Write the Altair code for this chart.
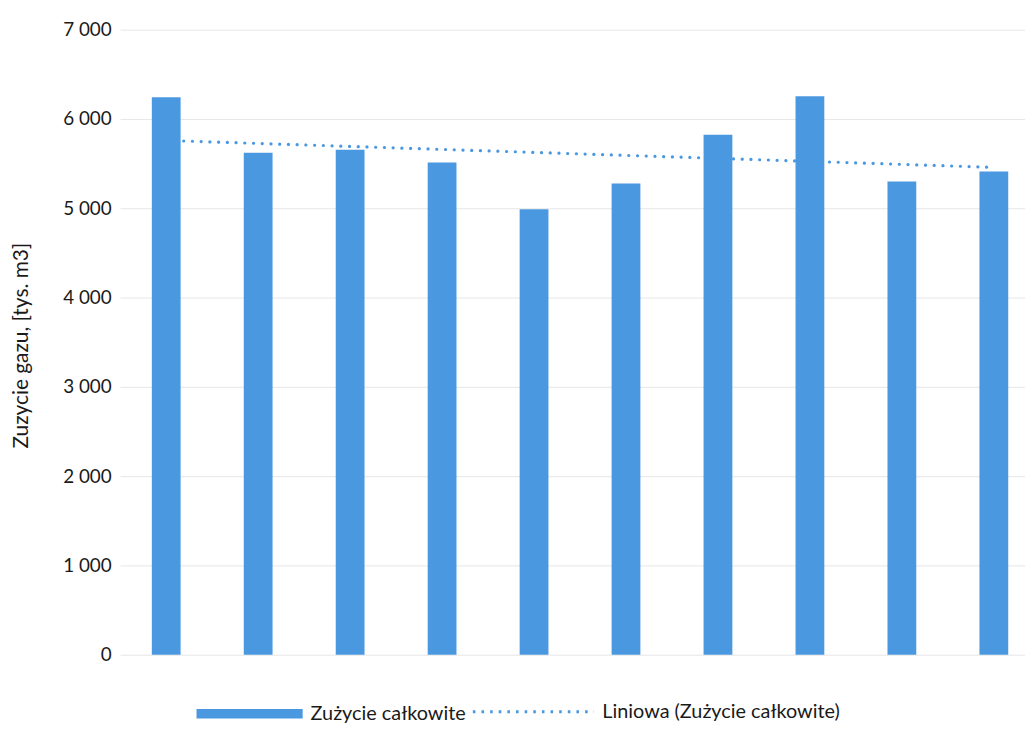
import altair as alt
import pandas as pd

# --- data ---
idx = [1, 2, 3, 4, 5, 6, 7, 8, 9, 10]
values = [6244, 5622, 5655, 5511, 4989, 5278, 5822, 6255, 5300, 5411]
bar_name = "Zużycie całkowite"
trend_name = "Liniowa (Zużycie całkowite)"
y_ticks = [0, 1000, 2000, 3000, 4000, 5000, 6000, 7000]
y_title = "Zuzycie gazu, [tys. m3]"

df = pd.DataFrame({"i": idx, "v": values, "s": [bar_name] * len(idx)})

blue = "#4A98E0"
FONT = "Lato"
TXT = "#1a1a1a"

bar_legend = alt.Legend(
    title=None,
    orient="none",
    legendX=77,
    legendY=636,
    direction="horizontal",
    symbolType="M-1,-0.09H1V0.09H-1Z",
    symbolSize=11449,
    symbolStrokeWidth=0,
    symbolOpacity=1,
    labelFont=FONT,
    labelFontSize=20,
    labelColor=TXT,
    labelOffset=8,
    labelLimit=600,
)
line_legend = alt.Legend(
    title=None,
    orient="none",
    legendX=354,
    legendY=625,
    direction="horizontal",
    symbolType="M-1,0H1",
    symbolSize=14884,
    symbolStrokeWidth=3,
    symbolDash=[2.6, 6.1],
    symbolFillColor="transparent",
    symbolOpacity=1,
    labelFont=FONT,
    labelFontSize=20,
    labelColor=TXT,
    labelOffset=7,
    labelLimit=600,
)

x_enc = alt.X(
    "i:O",
    axis=None,
    scale=alt.Scale(paddingInner=0.687, paddingOuter=0.2635, align=0.654),
)
y_enc = alt.Y(
    "v:Q",
    scale=alt.Scale(domain=[0, 7000]),
    axis=alt.Axis(
        values=y_ticks,
        labelExpr="replace(format(datum.value, ','), ',', ' ')",
        title=y_title,
        titleX=-99,
        titleY=318,
        titleAngle=270,
        titleAlign="center",
        titleBaseline="middle",
        titleFont=FONT,
        titleFontSize=21,
        titleFontWeight="normal",
        titleColor=TXT,
        labelFont=FONT,
        labelFontSize=19,
        labelColor=TXT,
        labelPadding=9,
        domain=False,
        ticks=False,
        grid=True,
        gridColor="#e6e6e6",
        gridWidth=1,
    ),
)

trend = (
    alt.Chart(df)
    .transform_regression("i", "v")
    .transform_calculate(s=f"'{trend_name}'")
    .mark_line(strokeDash=[0.1, 8.7], strokeCap="round", strokeWidth=3.2)
    .encode(
        x=x_enc,
        y=y_enc,
        stroke=alt.Stroke(
            "s:N", scale=alt.Scale(domain=[trend_name], range=[blue]), legend=line_legend
        ),
    )
)

bars = (
    alt.Chart(df)
    .mark_bar()
    .encode(
        x=x_enc,
        y=y_enc,
        fill=alt.Fill(
            "s:N", scale=alt.Scale(domain=[bar_name], range=[blue]), legend=bar_legend
        ),
    )
)

chart = (
    alt.layer(trend, bars)
    .properties(
        width=912,
        height=630,
        autosize=alt.AutoSizeParams(type="none"),
        padding={"left": 113, "top": 19, "right": 0, "bottom": 66},
        background="white",
    )
    .configure_view(stroke=None)
)

chart.save("out.html", embed_options={"renderer": "svg", "actions": False})
